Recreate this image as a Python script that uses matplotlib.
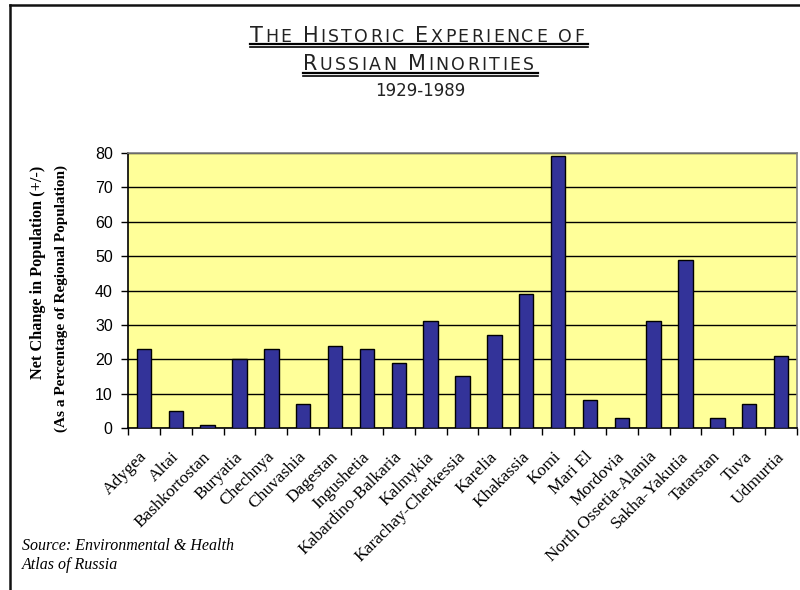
import numpy as np
import matplotlib
matplotlib.use("Agg")
import matplotlib.pyplot as plt
import matplotlib.transforms as mtransforms
from matplotlib.lines import Line2D

# data
regions = ["Adygea", "Altai", "Bashkortostan", "Buryatia", "Chechnya", "Chuvashia",
           "Dagestan", "Ingushetia", "Kabardino-Balkaria", "Kalmykia",
           "Karachay-Cherkessia", "Karelia", "Khakassia", "Komi", "Mari El",
           "Mordovia", "North Ossetia-Alania", "Sakha-Yakutia", "Tatarstan",
           "Tuva", "Udmurtia"]
change = [23, 5, 1, 20, 23, 7, 24, 23, 19, 31, 15, 27, 39, 79, 8, 3, 31, 49, 3, 7, 21]
yticks = [0, 10, 20, 30, 40, 50, 60, 70, 80]

serif = "Liberation Serif"
sans = "Liberation Sans"

fig = plt.figure(figsize=(8, 5.9), dpi=100)
ax = fig.add_axes([0.16, 0.2746, 0.83625, 0.466])
ax.set_facecolor("#FFFF99")

x = np.arange(len(regions))
ax.bar(x, change, width=0.45, color="#333399", edgecolor="black", linewidth=1, zorder=3)

ax.set_xlim(-0.5, len(regions) - 0.5)
ax.set_ylim(0, 80)
ax.set_yticks(yticks)
ax.set_yticklabels([str(v) for v in yticks], fontfamily=sans, fontsize=11.5)
ax.yaxis.grid(True, color="black", linewidth=1, zorder=1)
ax.tick_params(axis="y", direction="out", length=5, width=1, pad=6)

# category boundaries carry the ticks, names sit at bar centres
ax.set_xticks(np.arange(-0.5, len(regions)), minor=False)
ax.set_xticklabels([])
ax.set_xticks(x, minor=True)
ax.set_xticklabels(regions, minor=True, rotation=45, ha="right", rotation_mode="anchor",
                   fontfamily=serif, fontsize=12.5)
ax.tick_params(axis="x", which="major", direction="out", length=5, width=1)
ax.tick_params(axis="x", which="minor", length=0, pad=15)
shift = mtransforms.ScaledTranslation(-5 / 100, 0, fig.dpi_scale_trans)
for lab in ax.get_xticklabels(minor=True):
    lab.set_transform(lab.get_transform() + shift)

for s in ["top", "right"]:
    ax.spines[s].set_color("#808080")
    ax.spines[s].set_linewidth(1.2)
for s in ["left", "bottom"]:
    ax.spines[s].set_color("black")
    ax.spines[s].set_linewidth(1.2)

# y axis titles
fig.text(38 / 800, 1 - 272 / 590, "Net Change in Population (+/-)", rotation=90,
         ha="center", va="center", fontfamily=serif, fontweight="bold", fontsize=11.7)
fig.text(61 / 800, 1 - 299 / 590, "(As a Percentage of Regional Population)", rotation=90,
         ha="center", va="center", fontfamily=serif, fontweight="bold", fontsize=11)

# source note
fig.text(22 / 800, 1 - 546 / 590, "Source: Environmental & Health", ha="left", va="center",
         fontfamily=serif, fontstyle="italic", fontsize=11.5)
fig.text(22 / 800, 1 - 565 / 590, "Atlas of Russia", ha="left", va="center",
         fontfamily=serif, fontstyle="italic", fontsize=11.5)

# frame lines at top and left of the page
fig.add_artist(Line2D([10 / 800, 1], [1 - 5 / 590, 1 - 5 / 590], color="#111111", linewidth=1.8))
fig.add_artist(Line2D([10 / 800, 10 / 800], [0, 1 - 5 / 590], color="#111111", linewidth=1.8))


# small caps title, tracked out to the wide look, with a double underline
def small_caps(text, baseline, left, right, big=15, small=12.5):
    renderer = fig.canvas.get_renderer()
    chars = []
    for word in text.split(" "):
        for c in word:
            chars.append((c, big) if c.isupper() else (c.upper(), small))
        chars.append(("\u00a0", big))
    chars = chars[:-1]
    widths = []
    for c, size in chars:
        t = fig.text(0, 0, c, fontfamily="DejaVu Sans", fontsize=size)
        widths.append(t.get_window_extent(renderer).width)
        t.remove()
    track = (right - left - sum(widths)) / (len(chars) - 1)
    xpos = left
    for (c, size), w in zip(chars, widths):
        fig.text(xpos / 800, 1 - baseline / 590, c, fontfamily="DejaVu Sans",
                 fontsize=size, ha="left", va="baseline", color="#222222")
        xpos += w + track
    fig.add_artist(Line2D([left / 800, (right + 4) / 800], [1 - (baseline + 2.2) / 590] * 2,
                          color="black", linewidth=1.6))
    fig.add_artist(Line2D([left / 800, (right + 4) / 800], [1 - (baseline + 5) / 590] * 2,
                          color="black", linewidth=1.2))


small_caps("The Historic Experience of", 41.5, 250, 584)
small_caps("Russian Minorities", 70.5, 303, 534)
fig.text(420 / 800, 1 - 91 / 590, "1929-1989", ha="center", va="center",
         fontfamily="DejaVu Sans", fontsize=12, color="#222222")

fig.savefig("out.png", dpi=100)
